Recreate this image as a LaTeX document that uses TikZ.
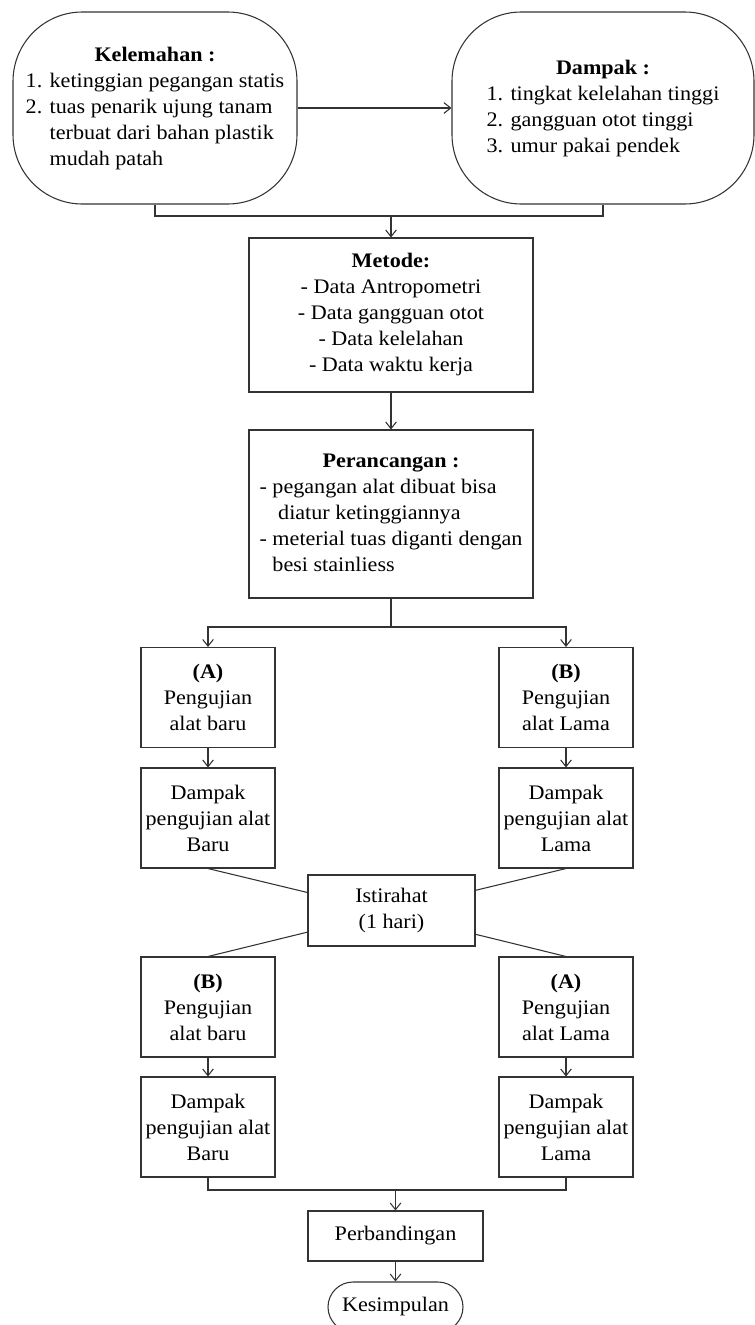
\documentclass[tikz,border=0pt]{standalone}
\usepackage{fontspec}
\setmainfont{Liberation Serif}[FakeStretch=1.07]
\usetikzlibrary{arrows.meta,calc}
\begin{document}
\begin{tikzpicture}[x=0.75pt,y=-0.75pt,
  line width=0.8pt,
  every node/.style={font=\fontsize{15.5}{19.5}\selectfont, inner sep=0pt},
  box/.style={draw=black!80, rectangle, align=center},
  bigbox/.style={box, minimum width=213pt},
  smallbox/.style={box, minimum width=100.5pt, minimum height=75pt},
  arr/.style={draw=black!80, -{Straight Barb[length=5pt,width=8pt]}},
  ln/.style={draw=black!80}]
\useasboundingbox (0,0) rectangle (755,1325);

% top row
\node[box, rounded corners=52pt, minimum width=213pt, minimum height=144pt] (kel) at (155,108)
  {\begin{tabular}{@{}l@{}}
   \multicolumn{1}{c}{\textbf{Kelemahan :}}\\
   1. ketinggian pegangan statis\\
   2. tuas penarik ujung tanam\\
   \phantom{2. }terbuat dari bahan plastik\\
   \phantom{2. }mudah patah
   \end{tabular}};
\node[box, rounded corners=52pt, minimum width=226.5pt, minimum height=144pt] (dam) at (603,108)
  {\begin{tabular}{@{}l@{}}
   \multicolumn{1}{c}{\textbf{Dampak :}}\\
   1. tingkat kelelahan tinggi\\
   2. gangguan otot tinggi\\
   3. umur pakai pendek
   \end{tabular}};

\node[bigbox, minimum height=115.5pt] (met) at (391,315)
  {\textbf{Metode:}\\- Data Antropometri\\- Data gangguan otot\\- Data kelelahan\\- Data waktu kerja};

\node[bigbox, minimum height=126pt] (per) at (391,514)
  {\begin{tabular}{@{}l@{}}
   \multicolumn{1}{c}{\textbf{Perancangan :}}\\
   - pegangan alat dibuat bisa\\
   \hspace{0.9em}diatur ketinggiannya\\
   - meterial tuas diganti dengan\\
   \phantom{- }besi stainliess
   \end{tabular}};

% first test round
\node[smallbox] (a1) at (208,697.5) {\textbf{(A)}\\Pengujian\\alat baru};
\node[smallbox] (b1) at (566,697.5) {\textbf{(B)}\\Pengujian\\alat Lama};
\node[smallbox] (da1) at (208,818) {Dampak\\pengujian alat\\Baru};
\node[smallbox] (db1) at (566,818) {Dampak\\pengujian alat\\Lama};

\node[box, minimum width=125.25pt, minimum height=53.25pt] (ist) at (391.5,910.5) {Istirahat\\(1 hari)};

% second test round
\node[smallbox] (a2) at (208,1007) {\textbf{(B)}\\Pengujian\\alat baru};
\node[smallbox] (b2) at (566,1007) {\textbf{(A)}\\Pengujian\\alat Lama};
\node[smallbox] (da2) at (208,1127) {Dampak\\pengujian alat\\Baru};
\node[smallbox] (db2) at (566,1127) {Dampak\\pengujian alat\\Lama};

\node[box, minimum width=131.25pt, minimum height=37.5pt] (perb) at (395.5,1236) {Perbandingan};
\node[box, rounded corners=18.75pt, minimum width=101.25pt, minimum height=37.5pt] (kes) at (395.5,1307) {Kesimpulan};

% connectors
\draw[arr] (kel.east) -- (dam.west);
\coordinate (j1) at (391,216);
\draw[ln] (kel.south) |- (j1) -| (dam.south);
\draw[arr] (j1) -- (met.north);
\draw[arr] (met.south) -- (per.north);

\coordinate (j2) at (391,627);
\draw[ln] (per.south) -- (j2);
\draw[arr] (j2) -| (a1.north);
\draw[arr] (j2) -| (b1.north);
\draw[arr] (a1) -- (da1);
\draw[arr] (b1) -- (db1);

\draw[ln] (da1.south) -- ($(ist.north west)!0.25!(ist.south west)$);
\draw[ln] (db1.south) -- ($(ist.north east)!0.22!(ist.south east)$);
\draw[ln] ($(ist.north west)!0.8!(ist.south west)$) -- (a2.north);
\draw[ln] ($(ist.north east)!0.83!(ist.south east)$) -- (b2.north);

\draw[arr] (a2) -- (da2);
\draw[arr] (b2) -- (db2);

\coordinate (j3) at (395.5,1190);
\draw[ln] (da2.south) |- (j3) -| (db2.south);
\draw[arr] (j3) -- (perb.north);
\draw[arr] (perb) -- (kes);
\end{tikzpicture}
\end{document}
